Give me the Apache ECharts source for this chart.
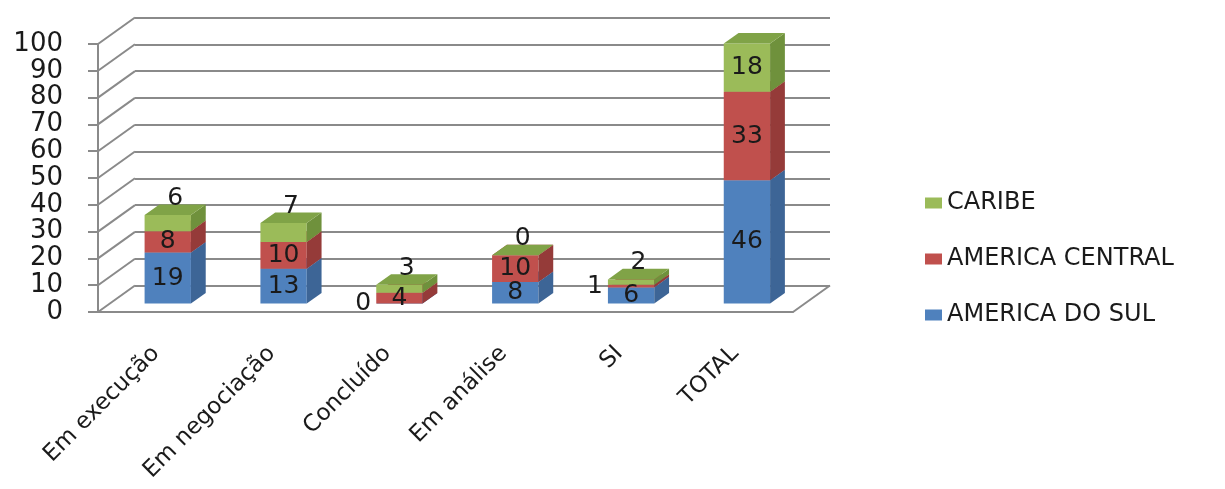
<!DOCTYPE html>
<html>
<head>
<meta charset="utf-8">
<title>Projetos por região</title>
<script src="https://cdn.jsdelivr.net/npm/echarts@6/dist/echarts.min.js"></script>
<style>
  html, body { margin: 0; padding: 0; background: #fff; }
  #chart { width: 1225px; height: 489px; }
</style>
</head>
<body>
<div id="chart"></div>
<script>
// dados do gráfico
const categories = ['Em execução', 'Em negociação', 'Concluído', 'Em análise', 'SI', 'TOTAL'];
const americaDoSul = [19, 13, 0, 8, 6, 46];
const americaCentral = [8, 10, 4, 10, 1, 33];
const caribe = [6, 7, 3, 0, 2, 18];
const yTicks = [0, 10, 20, 30, 40, 50, 60, 70, 80, 90, 100];

// estilo
const FONT = '"DejaVu Sans", sans-serif';
const GRID_COLOR = '#8a8a8a';
const TEXT_COLOR = '#1a1a1a';
const FRONT = { left: 98, right: 432, top: 44, bottom: 177 };
const DEPTH = [37, -26.5];      // deslocamento da parede do fundo
const BAR_FRONT = 0.32;         // posição da face frontal das barras
const BAR_DEPTH = 0.4;          // profundidade das barras

const seriesDefs = [
  { name: 'AMERICA DO SUL', data: americaDoSul, front: '#4F81BD', top: '#4874AC', side: '#3D6596' },
  { name: 'AMERICA CENTRAL', data: americaCentral, front: '#C0504D', top: '#AC4744', side: '#953B39' },
  { name: 'CARIBE', data: caribe, front: '#9BBB59', top: '#80A347', side: '#6F913C' }
];

/**
 * Desenha um segmento empilhado como caixa pseudo-3D
 */
function makeRenderer(def, isTop) {
  return function (params, api) {
    const idx = api.value(0);
    const base = api.value(1);
    const val = api.value(2);
    const p0 = api.coord([idx, base]);
    const p1 = api.coord([idx, base + val]);
    const w = api.size([1, 0])[0] * 0.4;
    const ox = DEPTH[0] * BAR_FRONT, oy = DEPTH[1] * BAR_FRONT;
    const dx = DEPTH[0] * BAR_DEPTH, dy = DEPTH[1] * BAR_DEPTH;
    const x0 = p0[0] + ox - w / 2, x1 = x0 + w;
    const yb = p0[1] + oy, yt = p1[1] + oy;
    const h = yb - yt;

    // rótulos: pequenos no topo vão acima, quase nulos vão à esquerda
    let lx = x0 + w / 2, ly = (yb + yt) / 2, align = 'center';
    if (isTop && h < 30) {
      lx = x0 + w / 2 + dx / 2;
      ly = yt + dy - 6;
    } else if (!isTop && h < 5) {
      lx = x0 - 5;
      align = 'right';
    }

    return {
      type: 'group',
      children: [
        { type: 'rect', shape: { x: x0, y: yt, width: w, height: h }, style: { fill: def.front } },
        { type: 'polygon', shape: { points: [[x1, yb], [x1 + dx, yb + dy], [x1 + dx, yt + dy], [x1, yt]] }, style: { fill: def.side } },
        { type: 'polygon', shape: { points: [[x0, yt], [x1, yt], [x1 + dx, yt + dy], [x0 + dx, yt + dy]] }, style: { fill: def.top } },
        {
          type: 'text', z2: 10,
          style: {
            text: String(val), x: lx, y: ly, align: align, verticalAlign: 'middle',
            font: '25px ' + FONT, fill: TEXT_COLOR
          }
        }
      ]
    };
  };
}

// bases do empilhamento
const bases = [];
seriesDefs.forEach((def, s) => {
  bases.push(categories.map((c, i) => s === 0 ? 0 : bases[s - 1][i] + seriesDefs[s - 1].data[i]));
});

const barSeries = seriesDefs.map((def, s) => ({
  name: def.name,
  type: 'custom',
  xAxisIndex: 0,
  yAxisIndex: 0,
  itemStyle: { color: def.front },
  encode: { x: 0, y: [1, 2] },
  renderItem: makeRenderer(def, s === seriesDefs.length - 1),
  data: categories.map((c, i) => [i, bases[s][i], def.data[i]]),
  z: 5
}));

// linhas diagonais entre o eixo da frente e a parede do fundo
const depthSeries = {
  type: 'custom',
  silent: true,
  xAxisIndex: 0,
  yAxisIndex: 0,
  encode: { x: 0, y: 1 },
  z: 1,
  renderItem(params, api) {
    const y = api.coord([0, api.value(1)])[1];
    const cs = params.coordSys;
    const lineStyle = { stroke: GRID_COLOR, lineWidth: 2 };
    const children = [{
      type: 'line',
      shape: { x1: cs.x, y1: y, x2: cs.x + DEPTH[0], y2: y + DEPTH[1] },
      style: lineStyle
    }];
    if (api.value(1) === 0) {
      children.push({
        type: 'line',
        shape: { x1: cs.x + cs.width, y1: y, x2: cs.x + cs.width + DEPTH[0], y2: y + DEPTH[1] },
        style: lineStyle
      });
    }
    return { type: 'group', children };
  },
  data: yTicks.map(v => [0, v])
};

const chart = echarts.init(document.getElementById('chart'));
chart.setOption({
  animation: false,
  legend: {
    data: ['CARIBE', 'AMERICA CENTRAL', 'AMERICA DO SUL'],
    orient: 'vertical',
    left: 920,
    top: 185,
    icon: 'rect',
    itemWidth: 17,
    itemHeight: 11,
    itemGap: 30,
    selectedMode: false,
    textStyle: { fontFamily: FONT, fontSize: 24, lineHeight: 26, color: TEXT_COLOR }
  },
  grid: [
    { left: FRONT.left, right: FRONT.right, top: FRONT.top, bottom: FRONT.bottom },
    {
      left: FRONT.left + DEPTH[0], right: FRONT.right - DEPTH[0],
      top: FRONT.top + DEPTH[1], bottom: FRONT.bottom - DEPTH[1]
    }
  ],
  xAxis: [
    {
      type: 'category',
      gridIndex: 0,
      data: categories,
      axisLine: { lineStyle: { color: GRID_COLOR, width: 2 } },
      axisTick: { length: 9, lineStyle: { color: GRID_COLOR, width: 2 } },
      axisLabel: {
        rotate: 45, margin: 38, interval: 0,
        fontFamily: FONT, fontSize: 23, color: TEXT_COLOR
      }
    },
    { type: 'value', gridIndex: 1, show: false, min: 0, max: 1 }
  ],
  yAxis: [
    {
      type: 'value',
      gridIndex: 0,
      min: 0, max: 100, interval: 10,
      axisLine: { show: true, lineStyle: { color: GRID_COLOR, width: 2 } },
      axisTick: { show: true, length: 10, lineStyle: { color: GRID_COLOR, width: 2 } },
      axisLabel: { margin: 35, fontFamily: FONT, fontSize: 26, color: TEXT_COLOR },
      splitLine: { show: false }
    },
    {
      type: 'value',
      gridIndex: 1,
      min: 0, max: 100, interval: 10,
      axisLine: { show: false },
      axisTick: { show: false },
      axisLabel: { show: false },
      splitLine: { show: true, lineStyle: { color: GRID_COLOR, width: 2 } }
    }
  ],
  series: [depthSeries].concat(barSeries)
});
</script>
</body>
</html>
